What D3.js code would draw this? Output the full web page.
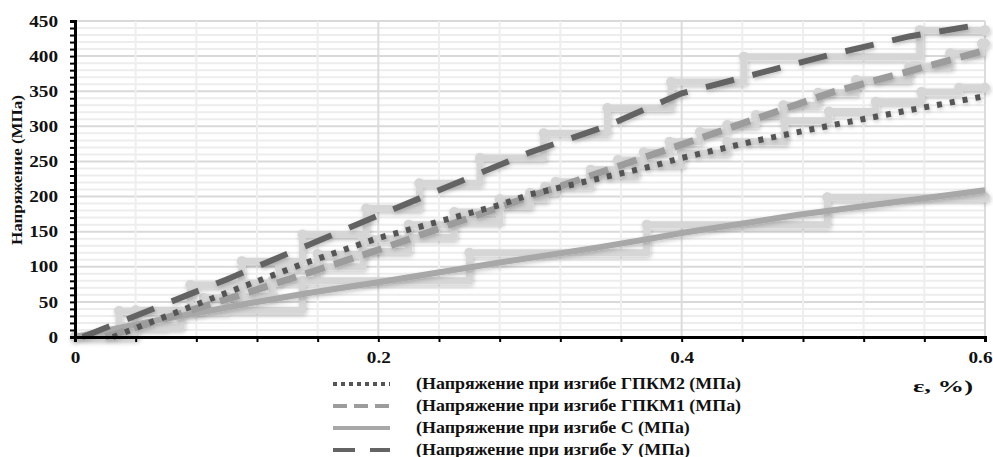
<!DOCTYPE html>
<html>
<head>
<meta charset="utf-8">
<script src="https://cdn.jsdelivr.net/npm/d3@7"></script>
<style>
body { margin: 0; background: #fff; }
text { font-family: "Liberation Serif", "Times New Roman", serif; font-weight: bold; fill: #111; }
</style>
</head>
<body>
<svg></svg>
<script>
// data
var xTicks = [0, 0.2, 0.4, 0.6];
var yTicks = [0, 50, 100, 150, 200, 250, 300, 350, 400, 450];

// trend lines
var uX = [0.005, 0.1, 0.2, 0.3, 0.35, 0.4, 0.45, 0.5, 0.55, 0.6];
var uY = [0, 82, 173, 263, 300, 347, 375, 403, 428, 446];
var g2X = [0.025, 0.1, 0.15, 0.2, 0.28, 0.3, 0.38, 0.4, 0.45, 0.5, 0.55, 0.6];
var g2Y = [0, 63, 104, 141, 188, 203, 243, 255, 280, 302, 323, 343];
var g1X = [0.02, 0.115, 0.2, 0.3, 0.4, 0.5, 0.6];
var g1Y = [0, 64, 124, 200, 274, 349, 408];
var cX = [0, 0.05, 0.115, 0.155, 0.2, 0.28, 0.346, 0.379, 0.4, 0.477, 0.6];
var cY = [0, 22, 48, 63, 78, 106, 128, 140, 148, 174, 209];

// raw measured steps
var uRawX = [0, 0.029, 0.076, 0.11, 0.15, 0.192, 0.227, 0.267, 0.309, 0.351, 0.393, 0.441, 0.557, 0.6];
var uRawY = [0, 37, 74, 108, 146, 183, 219, 255, 290, 326, 363, 399, 437, 437];
var cRawX = [0, 0.04, 0.15, 0.26, 0.377, 0.496, 0.6];
var cRawY = [0, 38, 80, 120, 160, 199, 199];
var g2RawX = [0, 0.035, 0.06, 0.085, 0.11, 0.135, 0.16, 0.19, 0.22, 0.25, 0.28, 0.31, 0.34, 0.37, 0.4, 0.43, 0.468, 0.497, 0.528, 0.558, 0.583, 0.6];
var g2RawY = [0, 12, 35, 56, 77, 98, 118, 140, 160, 178, 196, 214, 230, 245, 262, 278, 308, 321, 335, 349, 355, 355];
var g1RawX = [0, 0.04, 0.07, 0.1, 0.13, 0.16, 0.19, 0.22, 0.25, 0.28, 0.3, 0.317, 0.34, 0.358, 0.375, 0.392, 0.412, 0.43, 0.449, 0.467, 0.49, 0.515, 0.55, 0.577, 0.598, 0.6];
var g1RawY = [0, 14, 36, 58, 80, 100, 122, 142, 164, 186, 205, 221, 238, 252, 263, 278, 292, 302, 316, 330, 348, 366, 385, 404, 418, 418];

var names = [
  '(Напряжение при изгибе ГПКМ2 (МПа)',
  '(Напряжение при изгибе ГПКМ1 (МПа)',
  '(Напряжение при изгибе С (МПа)',
  '(Напряжение при изгибе У (МПа)'
];

var W = 993, H = 457;
var svg = d3.select('svg').attr('width', W).attr('height', H);

var x = d3.scaleLinear().domain([0, 0.6]).range([75, 985]);
var y = d3.scaleLinear().domain([0, 450]).range([337, 21]);

var defs = svg.append('defs');
var f = defs.append('filter').attr('id', 'sh').attr('x', '-5%').attr('y', '-5%').attr('width', '110%').attr('height', '115%');
f.append('feDropShadow').attr('dx', 1).attr('dy', 2).attr('stdDeviation', 2)
  .attr('flood-color', '#000').attr('flood-opacity', 0.22);

// grid
var grid = svg.append('g');
grid.selectAll('.hy').data(d3.range(10, 451, 10)).enter().append('line')
  .attr('x1', x(0)).attr('x2', x(0.6))
  .attr('y1', function(d) { return y(d); }).attr('y2', function(d) { return y(d); })
  .attr('stroke', function(d) { return d % 50 === 0 ? '#d9d9d9' : '#ededed'; })
  .attr('stroke-width', 2);
grid.selectAll('.vx').data(d3.range(1, 16)).enter().append('line')
  .attr('x1', function(d) { return x(d * 0.04); }).attr('x2', function(d) { return x(d * 0.04); })
  .attr('y1', y(0)).attr('y2', y(450))
  .attr('stroke', function(d) { return d % 5 === 0 ? '#dcdcdc' : '#eeeeee'; })
  .attr('stroke-width', 2);

function pts(xs, ys) { return xs.map(function(v, i) { return [v, ys[i]]; }); }

var line = d3.line().x(function(d) { return x(d[0]); }).y(function(d) { return y(d[1]); });
var step = d3.line().x(function(d) { return x(d[0]); }).y(function(d) { return y(d[1]); }).curve(d3.curveStepAfter);

// raw data in light grey
var raws = [pts(cRawX, cRawY), pts(g2RawX, g2RawY), pts(g1RawX, g1RawY), pts(uRawX, uRawY)];
var rawG = svg.append('g').attr('filter', 'url(#sh)');
raws.forEach(function(r) {
  rawG.append('path').attr('d', step(r)).attr('fill', 'none')
    .attr('stroke', '#d6d6d6').attr('stroke-width', 7).attr('stroke-linejoin', 'round').attr('stroke-linecap', 'round');
  rawG.selectAll(null).data(r).enter().append('circle')
    .attr('cx', function(d) { return x(d[0]); }).attr('cy', function(d) { return y(d[1]); })
    .attr('r', 5).attr('fill', '#d6d6d6');
});

// trend lines
var series = [
  { p: pts(g2X, g2Y), color: '#555555', w: 6, dash: '5,8' },
  { p: pts(g1X, g1Y), color: '#9c9c9c', w: 7, dash: '20,10' },
  { p: pts(cX, cY), color: '#a8a8a8', w: 6, dash: null },
  { p: pts(uX, uY), color: '#646464', w: 6, dash: '29,19' }
];
var drawOrder = [2, 1, 0, 3];
var lineG = svg.append('g').attr('filter', 'url(#sh)');
drawOrder.forEach(function(i) {
  var s = series[i];
  lineG.append('path').attr('d', line(s.p)).attr('fill', 'none')
    .attr('stroke', s.color).attr('stroke-width', s.w)
    .attr('stroke-dasharray', s.dash);
});

// stretch text wider, like the squeezed original
function widen(sel, k) {
  sel.each(function() {
    var t = d3.select(this);
    t.attr('textLength', this.getComputedTextLength() * k).attr('lengthAdjust', 'spacingAndGlyphs');
  });
}

// axes
var yAxis = d3.axisLeft(y).tickValues(d3.range(0, 451, 10)).tickSize(5)
  .tickFormat(function(d) { return d % 50 === 0 ? d : ''; }).tickPadding(12);
var gy = svg.append('g').attr('transform', 'translate(' + x(0) + ',0)').call(yAxis);
gy.select('.domain').attr('stroke', '#000').attr('stroke-width', 3);
gy.selectAll('.tick line').attr('stroke', '#000').attr('stroke-width', 2);
gy.selectAll('.tick text').style('font-size', '16px').style('font-family', '"Liberation Serif", serif')
  .style('font-weight', 'bold').attr('fill', '#111');
widen(gy.selectAll('.tick text').filter(function(d) { return d % 50 === 0; }), 1.2);

var xAxis = d3.axisBottom(x).tickValues(d3.range(0, 16).map(function(d) { return d * 0.04; })).tickSize(5)
  .tickFormat(function(d) { return xTicks.some(function(t) { return Math.abs(t - d) < 1e-6; }) ? d3.format('.1~f')(d) : ''; })
  .tickPadding(10);
var gx = svg.append('g').attr('transform', 'translate(0,' + y(0) + ')').call(xAxis);
gx.select('.domain').attr('stroke', '#000').attr('stroke-width', 3);
gx.selectAll('.tick line').attr('stroke', '#000').attr('stroke-width', 2);
gx.selectAll('.tick text').style('font-size', '16px').style('font-family', '"Liberation Serif", serif')
  .style('font-weight', 'bold').attr('fill', '#111');
widen(gx.selectAll('.tick text').filter(function() { return this.textContent !== ''; }), 1.2);
gx.selectAll('.tick text').filter(function(d) { return Math.abs(d - 0.6) < 1e-6; })
  .attr('text-anchor', 'end').attr('x', 992 - x(0.6));

// axis titles
var yt = svg.append('text').attr('transform', 'translate(22,170) rotate(-90)')
  .attr('text-anchor', 'middle').style('font-size', '15px').text('Напряжение (МПа)');
yt.attr('textLength', 150).attr('lengthAdjust', 'spacingAndGlyphs');
svg.append('text').attr('x', 913).attr('y', 392).style('font-size', '17px')
  .attr('textLength', 60).attr('lengthAdjust', 'spacingAndGlyphs').text('ε, %)');

// legend
var leg = svg.append('g');
names.forEach(function(n, i) {
  var s = series[i];
  var ly = 384 + i * 22;
  leg.append('line').attr('x1', 333).attr('x2', 390).attr('y1', ly).attr('y2', ly)
    .attr('stroke', s.color).attr('stroke-width', 4)
    .attr('stroke-dasharray', i === 0 ? '4,4' : i === 1 ? '14,7' : i === 3 ? '22,15' : null);
  var t = leg.append('text').attr('x', 416).attr('y', ly + 5).style('font-size', '16px').text(n);
  widen(t, 1.12);
});
</script>
</body>
</html>
